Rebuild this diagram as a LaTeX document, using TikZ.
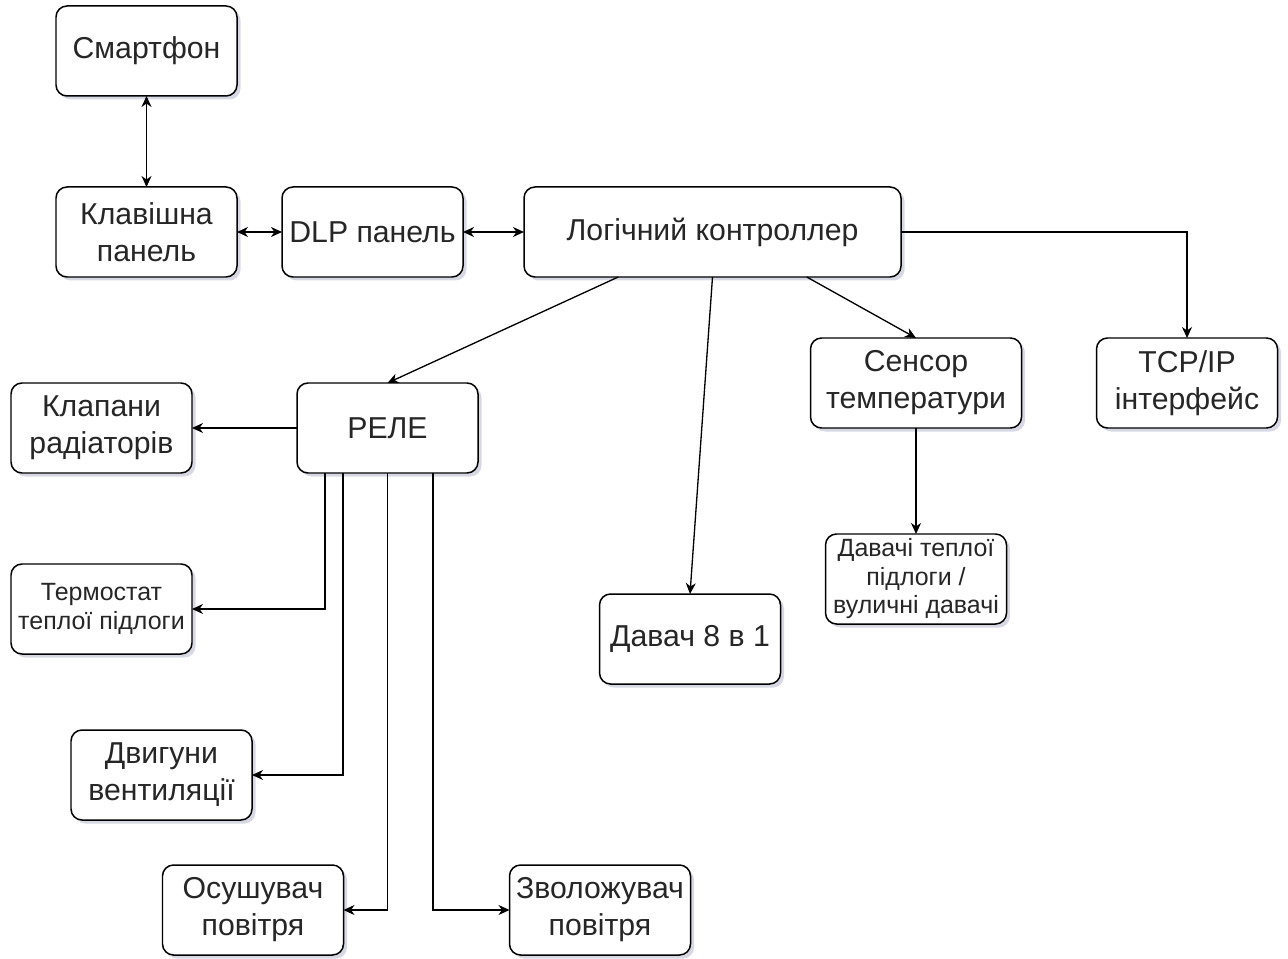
\documentclass[tikz,border=0pt]{standalone}
\usepackage{fontspec}
\setmainfont{Liberation Sans}
\usetikzlibrary{arrows.meta,positioning,calc,shadows}

\begin{document}
\begin{tikzpicture}[
every node/.style={
rectangle,
draw,
fill=white,
rounded corners=0.22cm,
line width=0.85pt,
minimum width=3.62cm,
minimum height=1.8cm,
align=center,
inner sep=1pt,
outer sep=0pt,
text=black!85,
font=\fontsize{17.2}{21}\selectfont,
drop shadow={shadow xshift=0.07cm,shadow yshift=-0.07cm,fill=blue!20!gray!50,opacity=0.5}
},
edge/.style={-{Stealth[length=2.2mm,width=2mm,inset=0.7mm]},line width=0.75pt},
biedge/.style={{Stealth[length=2.2mm,width=2mm,inset=0.7mm]}-{Stealth[length=2.2mm,width=2mm,inset=0.7mm]},line width=0.75pt},
smallstyle/.style={font=\fontsize{14.2}{16.2}\selectfont},
widestyle/.style={minimum width=7.54cm},
sensorstyle/.style={minimum width=4.22cm}
]
\useasboundingbox (0,0) rectangle (25.76,-19.18);
\node (smart) at (2.93,-1.02) {Смартфон};
\node (klav) [below=1.82cm of smart] {Клавішна\\панель};
\node (dlp) [right=0.9cm of klav] {DLP панель};
\node[widestyle] (logic) [right=1.22cm of dlp] {Логічний контроллер};
\node (rele) [below=2.12cm of dlp, xshift=0.3cm] {РЕЛЕ};
\node (klap) [left=2.1cm of rele] {Клапани\\радіаторів};
\node[smallstyle] (termo) [below=1.82cm of klap] {Термостат\\теплої підлоги};
\node (dvyh) [below=1.52cm of termo, xshift=1.2cm] {Двигуни\\вентиляції};
\node (osush) [below=0.9cm of dvyh, xshift=1.83cm] {Осушувач\\повітря};
\node (zvol) [right=3.32cm of osush] {Зволожувач\\повітря};
\node[sensorstyle] (sensor) [below=1.22cm of logic, xshift=4.07cm] {Сенсор\\температури};
\node (tcp) [right=1.5cm of sensor] {TCP/IP\\інтерфейс};
\node[smallstyle] (dav) [below=2.12cm of sensor] {Давачі теплої\\підлоги /\\вуличні давачі};
\node (dav8) [below=6.34cm of logic, xshift=-0.45cm] {Давач 8 в 1};
\draw[biedge] (smart) -- (klav);
\draw[biedge] (klav) -- (dlp);
\draw[biedge] (dlp) -- (logic);
\draw[edge] (logic) -| (tcp);
\draw[edge] ($(logic.south west)!0.25!(logic.south east)$) -- (rele.north);
\draw[edge] (logic.south) -- (dav8.north);
\draw[edge] ($(logic.south west)!0.75!(logic.south east)$) -- (sensor.north);
\draw[edge] (sensor) -- (dav);
\draw[edge] (rele) -- (klap);
\draw[edge] ($(rele.south west)+(0.56,0)$) |- (termo.east);
\draw[edge] ($(rele.south west)+(0.92,0)$) |- (dvyh.east);
\draw[edge] (rele.south) |- (osush.east);
\draw[edge] ($(rele.south west)+(2.72,0)$) |- (zvol.west);
\end{tikzpicture}
\end{document}
